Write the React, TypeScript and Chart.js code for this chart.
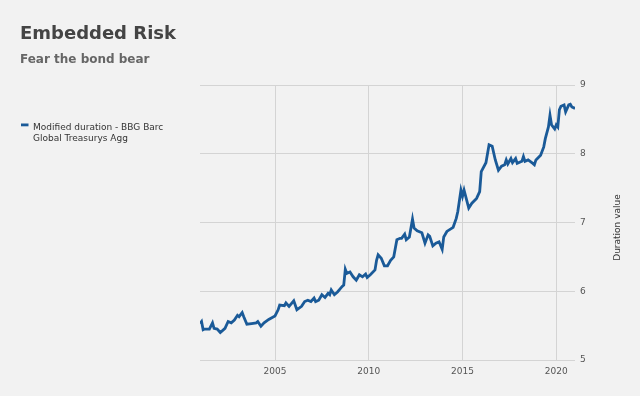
import React, { useEffect, useRef } from "react";
import { Chart, registerables } from "chart.js";

Chart.register(...registerables);

const titleText = "Embedded Risk";
const subtitleText = "Fear the bond bear";
const legendLines = ["Modified duration - BBG Barc", "Global Treasurys Agg"];
const yAxisTitle = "Duration value";
const xTickYears = [2005, 2010, 2015, 2020];
const yTicks = [5, 6, 7, 8, 9];

const dates = [
  "2001-01", "2001-02", "2001-03", "2001-04", "2001-07", "2001-09", "2001-10", "2001-12",
  "2002-02", "2002-05", "2002-07", "2002-09", "2002-11",
  "2003-01", "2003-02", "2003-04", "2003-05", "2003-07", "2003-10",
  "2004-01", "2004-02", "2004-04", "2004-06", "2004-09",
  "2005-01", "2005-03", "2005-04", "2005-07", "2005-08", "2005-10",
  "2006-01", "2006-03", "2006-06", "2006-08", "2006-10", "2006-12",
  "2007-02", "2007-03", "2007-05", "2007-07", "2007-09", "2007-11", "2007-12",
  "2008-01", "2008-03", "2008-05", "2008-08", "2008-09", "2008-10", "2008-11",
  "2009-01", "2009-03", "2009-05", "2009-06", "2009-07", "2009-09", "2009-11", "2009-12",
  "2010-02", "2010-05", "2010-06", "2010-07", "2010-09", "2010-11",
  "2011-01", "2011-03", "2011-05", "2011-07", "2011-09", "2011-10", "2011-12",
  "2012-01", "2012-03", "2012-05", "2012-06", "2012-08", "2012-11",
  "2013-01", "2013-03", "2013-04", "2013-06", "2013-08", "2013-10", "2013-12",
  "2014-01", "2014-03", "2014-07", "2014-09", "2014-10", "2014-12",
  "2015-01", "2015-02", "2015-05", "2015-07", "2015-10", "2015-12",
  "2016-01", "2016-04", "2016-06", "2016-08", "2016-10", "2016-12",
  "2017-02", "2017-04", "2017-05", "2017-06", "2017-08", "2017-09", "2017-11", "2017-12",
  "2018-03", "2018-04", "2018-05", "2018-07", "2018-10", "2018-11", "2018-12",
  "2019-03", "2019-05", "2019-06", "2019-08", "2019-09", "2019-10", "2019-12",
  "2020-01", "2020-02", "2020-03", "2020-04", "2020-06", "2020-07", "2020-09", "2020-10", "2020-11",
  "2021-01",
];

const durations = [
  5.53, 5.56, 5.44, 5.45, 5.45, 5.54, 5.46, 5.45,
  5.40, 5.46, 5.56, 5.54, 5.58,
  5.65, 5.63, 5.69, 5.63, 5.52, 5.53,
  5.54, 5.56, 5.49, 5.54, 5.59,
  5.64, 5.73, 5.80, 5.79, 5.83, 5.78,
  5.86, 5.73, 5.78, 5.85, 5.87, 5.85,
  5.90, 5.85, 5.87, 5.95, 5.91, 5.97, 5.95,
  6.02, 5.95, 5.99, 6.07, 6.09, 6.32, 6.26,
  6.28, 6.21, 6.16, 6.20, 6.24, 6.21, 6.25, 6.20,
  6.24, 6.31, 6.45, 6.53, 6.48, 6.37,
  6.37, 6.45, 6.50, 6.75, 6.77, 6.77, 6.83,
  6.75, 6.79, 7.05, 6.92, 6.88, 6.85,
  6.70, 6.82, 6.80, 6.66, 6.70, 6.72, 6.61,
  6.79, 6.87, 6.93, 7.06, 7.16, 7.47,
  7.38, 7.47, 7.21, 7.28, 7.35, 7.45,
  7.74, 7.87, 8.13, 8.11, 7.91, 7.76,
  7.82, 7.84, 7.91, 7.85, 7.93, 7.87, 7.93, 7.86,
  7.89, 7.96, 7.89, 7.91, 7.86, 7.84, 7.91,
  7.98, 8.10, 8.22, 8.39, 8.56, 8.42, 8.36,
  8.42, 8.39, 8.64, 8.69, 8.71, 8.61, 8.71, 8.72, 8.68,
  8.66,
];

const toYear = (s: string) => {
  const [y, m] = s.split("-").map(Number);
  return y + (m - 1) / 12;
};

const FONT = "'DejaVu Sans', Verdana, sans-serif";
const LINE_COLOR = "#1a5a98";
const GRID_COLOR = "#d4d4d4";

const overlayText = {
  id: "overlayText",
  afterDraw(chart: any) {
    const ctx = chart.ctx;
    ctx.save();
    ctx.textAlign = "left";
    ctx.textBaseline = "alphabetic";
    ctx.fillStyle = "#444444";
    ctx.font = `bold 18px ${FONT}`;
    ctx.fillText(titleText, 20, 39);
    ctx.fillStyle = "#666666";
    ctx.font = `bold 12px ${FONT}`;
    ctx.fillText(subtitleText, 20, 63);

    // legend
    ctx.fillStyle = LINE_COLOR;
    ctx.fillRect(21, 123.5, 7.5, 2.8);
    ctx.fillStyle = "#333333";
    ctx.font = `9px ${FONT}`;
    ctx.fillText(legendLines[0], 33, 129.5);
    ctx.fillText(legendLines[1], 33, 140.5);

    // axis title
    ctx.translate(619.5, 227.5);
    ctx.rotate(-Math.PI / 2);
    ctx.textAlign = "center";
    ctx.fillStyle = "#333333";
    ctx.fillText(yAxisTitle, 0, 0);
    ctx.restore();
  },
};

export default function App() {
  const ref = useRef<HTMLCanvasElement | null>(null);
  useEffect(() => {
    if (!ref.current) return;
    const points = dates.map((d, i) => ({ x: toYear(d), y: durations[i] }));
    const chart = new Chart(ref.current, {
      type: "line",
      data: {
        datasets: [
          {
            label: legendLines.join(" "),
            data: points,
            borderColor: LINE_COLOR,
            backgroundColor: LINE_COLOR,
            borderWidth: 2.8,
            pointRadius: 0,
            tension: 0,
            fill: false,
          },
        ],
      },
      options: {
        animation: false,
        responsive: false,
        maintainAspectRatio: false,
        layout: { padding: { left: 200, top: 85, right: 0, bottom: 0 } },
        plugins: {
          legend: { display: false },
          title: { display: false },
          tooltip: { enabled: false },
        },
        scales: {
          x: {
            type: "linear",
            position: "bottom",
            min: 2001,
            max: 2021,
            afterBuildTicks: (scale: any) => {
              scale.ticks = xTickYears.map((v) => ({ value: v }));
            },
            afterFit: (scale: any) => {
              scale.height = 36;
            },
            grid: { color: GRID_COLOR, drawTicks: false, lineWidth: 1 },
            border: { display: false },
            ticks: {
              padding: 6,
              color: "#555555",
              font: { family: FONT, size: 9 },
              maxRotation: 0,
              callback: (v: any) => String(v),
            },
          },
          y: {
            type: "linear",
            position: "right",
            min: 5,
            max: 9,
            afterBuildTicks: (scale: any) => {
              scale.ticks = yTicks.map((v) => ({ value: v }));
            },
            afterFit: (scale: any) => {
              scale.width = 65;
            },
            grid: { color: GRID_COLOR, drawTicks: false, lineWidth: 1 },
            border: { display: false },
            ticks: {
              padding: 5,
              color: "#555555",
              font: { family: FONT, size: 9 },
              callback: (v: any) => String(v),
            },
          },
        },
      },
      plugins: [overlayText],
    });
    return () => chart.destroy();
  }, []);

  return (
    <div
      style={{
        position: "fixed",
        left: 0,
        top: 0,
        width: 640,
        height: 396,
        background: "#f2f2f2",
      }}
    >
      <canvas ref={ref} width={640} height={396} style={{ display: "block" }} />
    </div>
  );
}
